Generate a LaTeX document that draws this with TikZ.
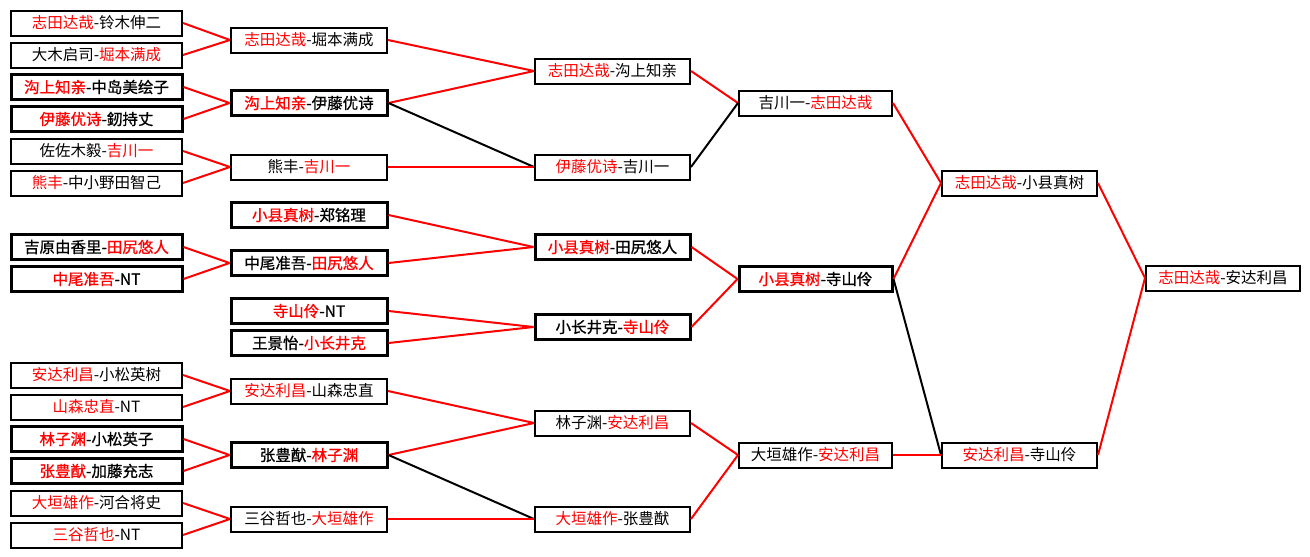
\documentclass[tikz,border=0pt]{standalone}
\usepackage{fontspec}
\setmainfont{Noto Sans CJK SC}
\newfontfamily\heavyfont[FakeBold=0.9]{Noto Sans CJK SC}
\newcommand{\win}[1]{\textcolor{red}{#1}}

\begin{document}
\begin{tikzpicture}[x=1pt, y=-1pt,
    match/.style={draw=black, line width=2pt, fill=white, minimum height=25pt, inner sep=0pt,
      font=\fontsize{15.5}{16}\selectfont},
    strong/.style={match, line width=3pt, font=\fontsize{15.5}{16}\selectfont\heavyfont},
    won/.style={red, line width=2pt},
    lost/.style={black, line width=2pt}]
  \useasboundingbox (0,0) rectangle (1310,557);
  \pgfmathsetmacro{\xA}{96.5};
  \pgfmathsetmacro{\xB}{309};
  \pgfmathsetmacro{\xC}{612.5};
  \pgfmathsetmacro{\xD}{815.5};
  \pgfmathsetmacro{\xE}{1019.5};
  \pgfmathsetmacro{\xF}{1223};
  % first round
  \node[match, minimum width=171pt] (a1) at (\xA,23) {\win{志田达哉}-铃木伸二};
  \node[match, minimum width=171pt] (a2) at (\xA,55) {大木启司-\win{堀本满成}};
  \node[strong, minimum width=171pt] (a3) at (\xA,87) {\win{沟上知亲}-中岛美绘子};
  \node[strong, minimum width=171pt] (a4) at (\xA,119) {\win{伊藤优诗}-釰持丈};
  \node[match, minimum width=171pt] (a5) at (\xA,151) {佐佐木毅-\win{吉川一}};
  \node[match, minimum width=171pt] (a6) at (\xA,183) {\win{熊丰}-中小野田智己};
  \node[strong, minimum width=171pt] (a7) at (\xA,247) {吉原由香里-\win{田尻悠人}};
  \node[strong, minimum width=171pt] (a8) at (\xA,279) {\win{中尾准吾}-NT};
  \node[match, minimum width=171pt] (a9) at (\xA,375) {\win{安达利昌}-小松英树};
  \node[match, minimum width=171pt] (a10) at (\xA,407) {\win{山森忠直}-NT};
  \node[strong, minimum width=171pt] (a11) at (\xA,439) {\win{林子渊}-小松英子};
  \node[strong, minimum width=171pt] (a12) at (\xA,471) {\win{张豊猷}-加藤充志};
  \node[match, minimum width=171pt] (a13) at (\xA,503) {\win{大垣雄作}-河合将史};
  \node[match, minimum width=171pt] (a14) at (\xA,535) {\win{三谷哲也}-NT};
  % second round
  \node[match, minimum width=156pt] (b1) at (\xB,40) {\win{志田达哉}-堀本满成};
  \node[strong, minimum width=156pt] (b2) at (\xB,103) {\win{沟上知亲}-伊藤优诗};
  \node[match, minimum width=156pt] (b3) at (\xB,167) {熊丰-\win{吉川一}};
  \node[strong, minimum width=156pt] (b4) at (\xB,215) {\win{小县真树}-郑铭理};
  \node[strong, minimum width=156pt] (b5) at (\xB,263) {中尾准吾-\win{田尻悠人}};
  \node[strong, minimum width=156pt] (b6) at (\xB,311) {\win{寺山伶}-NT};
  \node[strong, minimum width=156pt] (b7) at (\xB,343) {王景怡-\win{小长井克}};
  \node[match, minimum width=156pt] (b8) at (\xB,391) {\win{安达利昌}-山森忠直};
  \node[strong, minimum width=156pt] (b9) at (\xB,455) {张豊猷-\win{林子渊}};
  \node[match, minimum width=156pt] (b10) at (\xB,519) {三谷哲也-\win{大垣雄作}};
  % third round
  \node[match, minimum width=155pt] (c1) at (\xC,71) {\win{志田达哉}-沟上知亲};
  \node[match, minimum width=155pt] (c2) at (\xC,167) {\win{伊藤优诗}-吉川一};
  \node[strong, minimum width=155pt] (c3) at (\xC,247) {\win{小县真树}-田尻悠人};
  \node[strong, minimum width=155pt] (c4) at (\xC,327) {小长井克-\win{寺山伶}};
  \node[match, minimum width=155pt] (c5) at (\xC,423) {林子渊-\win{安达利昌}};
  \node[match, minimum width=155pt] (c6) at (\xC,519) {\win{大垣雄作}-张豊猷};
  % fourth round
  \node[match, minimum width=153pt] (d1) at (\xD,103) {吉川一-\win{志田达哉}};
  \node[strong, minimum width=153pt] (d2) at (\xD,279) {\win{小县真树}-寺山伶};
  \node[match, minimum width=153pt] (d3) at (\xD,455) {大垣雄作-\win{安达利昌}};
  % semifinals and final
  \node[match, minimum width=155pt] (e1) at (\xE,183) {\win{志田达哉}-小县真树};
  \node[match, minimum width=155pt] (e2) at (\xE,455) {\win{安达利昌}-寺山伶};
  \node[match, minimum width=154pt] (f) at (\xF,278) {\win{志田达哉}-安达利昌};
  % connectors
  \draw[won] (a1.east) -- (b1.west);
  \draw[won] (a2.east) -- (b1.west);
  \draw[won] (a3.east) -- (b2.west);
  \draw[won] (a4.east) -- (b2.west);
  \draw[won] (a5.east) -- (b3.west);
  \draw[won] (a6.east) -- (b3.west);
  \draw[won] (a7.east) -- (b5.west);
  \draw[won] (a8.east) -- (b5.west);
  \draw[won] (a9.east) -- (b8.west);
  \draw[won] (a10.east) -- (b8.west);
  \draw[won] (a11.east) -- (b9.west);
  \draw[won] (a12.east) -- (b9.west);
  \draw[won] (a13.east) -- (b10.west);
  \draw[won] (a14.east) -- (b10.west);
  \draw[won] (b1.east) -- (c1.west);
  \draw[won] (b2.east) -- (c1.west);
  \draw[lost] (b2.east) -- (c2.west);
  \draw[won] (b3.east) -- (c2.west);
  \draw[won] (b4.east) -- (c3.west);
  \draw[won] (b5.east) -- (c3.west);
  \draw[won] (b6.east) -- (c4.west);
  \draw[won] (b7.east) -- (c4.west);
  \draw[won] (b8.east) -- (c5.west);
  \draw[won] (b9.east) -- (c5.west);
  \draw[lost] (b9.east) -- (c6.west);
  \draw[won] (b10.east) -- (c6.west);
  \draw[won] (c1.east) -- (d1.west);
  \draw[lost] (c2.east) -- (d1.west);
  \draw[won] (c3.east) -- (d2.west);
  \draw[won] (c4.east) -- (d2.west);
  \draw[won] (c5.east) -- (d3.west);
  \draw[won] (c6.east) -- (d3.west);
  \draw[won] (d1.east) -- (e1.west);
  \draw[won] (d2.east) -- (e1.west);
  \draw[lost] (d2.east) -- (e2.west);
  \draw[won] (d3.east) -- (e2.west);
  \draw[won] (e1.east) -- (f.west);
  \draw[won] (e2.east) -- (f.west);
\end{tikzpicture}
\end{document}
